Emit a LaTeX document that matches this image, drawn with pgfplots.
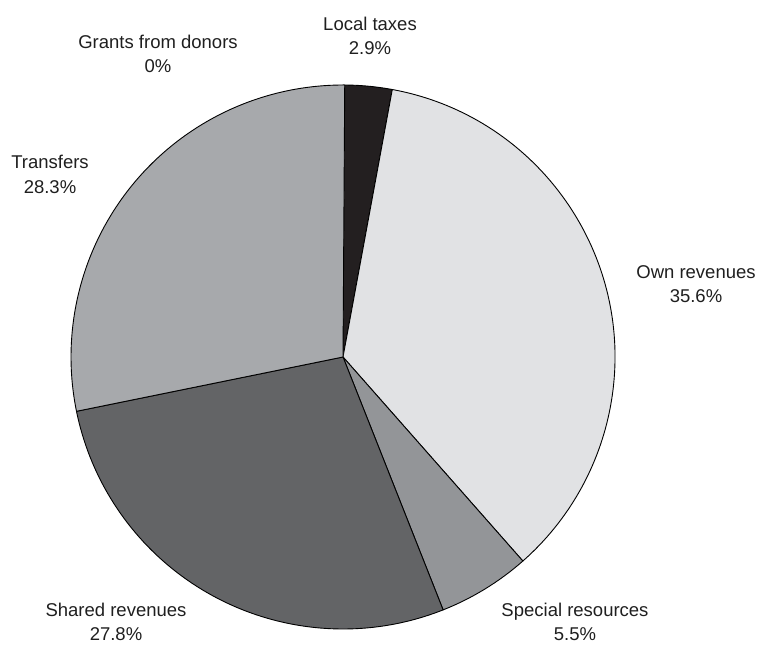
\documentclass[border=0pt]{standalone}
\usepackage{pgfplots}
\usepackage{pgfplotstable}
\pgfplotsset{compat=1.18}
\usepackage{fontspec}
\setmainfont{Liberation Sans}

\definecolor{cLocal}{HTML}{231F20}
\definecolor{cOwn}{HTML}{E1E2E4}
\definecolor{cSpecial}{HTML}{939598}
\definecolor{cShared}{HTML}{636466}
\definecolor{cTransfers}{HTML}{A7A9AC}
\definecolor{cGrants}{HTML}{FFFFFF}

% share (%) of each revenue source, clockwise from 12 o'clock
\pgfplotstableread{
pct colour
2.9  cLocal
35.6 cOwn
5.5  cSpecial
27.8 cShared
28.3 cTransfers
0    cGrants
}\piedata

\begin{document}
\begin{tikzpicture}
\begin{axis}[
  scale only axis, width=759pt, height=646pt,
  xmin=0, xmax=759, ymin=0, ymax=646,
  hide axis, clip=false,
]
\pgfplotstablegetrowsof{\piedata}
\pgfmathtruncatemacro\N{\pgfplotsretval-1}
\def\cum{0}
\pgfplotsforeachungrouped \i in {0,...,\N}{%
  \pgfplotstablegetelem{\i}{pct}\of\piedata \let\v\pgfplotsretval
  \pgfplotstablegetelem{\i}{colour}\of\piedata \let\col\pgfplotsretval
  \pgfmathsetmacro\a{90-3.6*\cum}%
  \pgfmathsetmacro\b{90-3.6*(\cum+\v)}%
  \pgfmathsetmacro\sx{343+272*cos(\a)}%
  \pgfmathsetmacro\sy{289+272*sin(\a)}%
  \pgfmathparse{\v>0?1:0}%
  \ifnum\pgfmathresult>0
    \edef\temp{\noexpand\filldraw[fill=\col, draw=black, line width=0.9pt, line join=round]
      (axis cs:343,289) -- (axis cs:\sx,\sy) arc[start angle=\a, end angle=\b, radius=272pt] -- cycle;}%
    \temp
  \fi
  \pgfmathsetmacro\cum{\cum+\v}%
}
\tikzset{lab/.style={align=center, inner sep=0pt, text=black!88, font=\fontsize{18.5}{24.5}\selectfont}}
\node[lab] at (axis cs:370,610) {Local taxes\\2.9\%};
\node[lab] at (axis cs:158,592) {Grants from donors\\0\%};
\node[lab] at (axis cs:50,471.5) {Transfers\\28.3\%};
\node[lab] at (axis cs:696,362) {Own revenues\\35.6\%};
\node[lab] at (axis cs:575,24) {Special resources\\5.5\%};
\node[lab] at (axis cs:116,24) {Shared revenues\\27.8\%};
\end{axis}
\pgfresetboundingbox
\path (current axis.south west) rectangle (current axis.north east);
\end{tikzpicture}
\end{document}
